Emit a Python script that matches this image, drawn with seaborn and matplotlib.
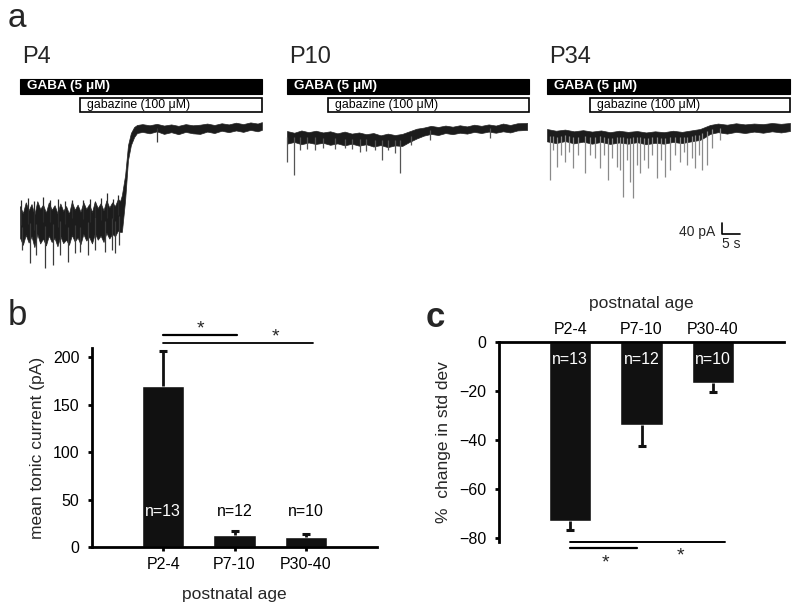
import numpy as np
import pandas as pd
import seaborn as sns
import matplotlib.pyplot as plt
from matplotlib.patches import Rectangle

sns.set_style("white")
plt.rcParams["font.family"] = ["Liberation Sans", "DejaVu Sans"]

# ---- panel a: traces (time s, current pA rel. to gabazine level)
p4_t = [0, 0.8, 1.6, 2.4, 3.2, 4.0, 4.8, 5.6, 6.4, 7.2, 8.0, 8.8, 9.6, 10.4, 11.2, 12.0,
        12.8, 13.6, 14.4, 15.2, 16.0, 16.8, 17.6, 18.4, 19.2, 20.0, 20.8, 21.6, 22.4, 23.2,
        24.0, 24.8, 25.6, 26.4, 27.2, 27.8, 28.3, 29.2, 30.0, 30.8, 31.7, 32.5,
        34, 36, 38, 40, 42, 44, 46, 48, 50, 52, 54, 56, 58, 60, 62, 64, 66, 67.2]
p4_hi = [-275, -300, -262, -290, -268, -305, -258, -285, -270, -298, -262, -288, -272, -300,
         -266, -292, -275, -302, -260, -288, -270, -295, -262, -285, -268, -296, -258, -282,
         -265, -290, -255, -280, -262, -275, -250, -258, -237, -167, -63, -21, 0, 7,
         10, 6, 11, 5, 9, 4, 10, 6, 8, 12, 7, 13, 9, 15, 10, 16, 12, 17]
p4_lo = [-385, -410, -375, -402, -380, -418, -372, -405, -388, -412, -378, -400, -386, -415,
         -380, -404, -392, -410, -376, -398, -384, -408, -372, -395, -382, -405, -370, -392,
         -378, -400, -368, -388, -372, -380, -360, -365, -365, -254, -115, -63, -35, -21,
         -17, -22, -15, -24, -18, -25, -17, -22, -24, -16, -21, -13, -18, -12, -17, -10, -15, -10]
p4_down_t = [0.6, 2.8, 4.4, 6.9, 9.2, 11.1, 13.3, 15.3, 16.7, 18.9, 20.8, 23.6, 25.6, 26.4, 27.5, 38.1]
p4_down = [-428, -473, -445, -490, -480, -445, -470, -438, -435, -445, -428, -435, -428, -438, -410, -52]
p4_up_t = [0.3, 2.2, 3.9, 6.4, 8.3, 10.6, 12.5, 14.4, 17.5, 19.4, 20.8, 22.5, 24.2, 25.8, 27.2]
p4_up = [-254, -247, -257, -243, -254, -250, -257, -254, -254, -250, -261, -247, -230, -250, -237]

p10_t = [0, 2, 4, 6, 8, 10, 12, 14, 16, 18, 20, 22, 24, 26, 28, 30, 32, 34, 36, 38, 40,
         42, 44, 46, 48, 50, 52, 54, 56, 58, 60, 62, 64, 66.7]
p10_hi = [-14, -20, -12, -18, -13, -19, -15, -22, -16, -23, -19, -25, -21, -29, -23, -28, -24,
          -15, -6, -2, 4, 0, 5, 1, 6, 2, 8, 4, 9, 5, 12, 7, 13, 14]
p10_lo = [-58, -52, -60, -54, -59, -55, -62, -57, -64, -58, -65, -60, -68, -63, -70, -64, -66,
          -52, -40, -30, -24, -28, -21, -25, -20, -23, -17, -21, -16, -20, -15, -19, -12, -10]
p10_down_t = [0, 1.9, 3.6, 5.5, 7.8, 10.0, 13.3, 16.1, 18.0, 20.3, 22.0, 24.4, 26.4, 28.1,
              30.0, 31.4, 34.5, 39.7, 56.4]
p10_down = [-122, -167, -80, -75, -80, -72, -77, -73, -78, -87, -85, -80, -115, -80,
            -90, -160, -62, -45, -38]

p34_t = [0, 2.5, 5, 7.5, 10, 12.5, 15, 17.5, 20, 22.5, 25, 27.5, 30, 32.5, 35, 37.5, 40,
         42.5, 43.9, 45.3, 47.5, 50, 52.5, 55, 57.5, 60, 62.5, 65, 67.5]
p34_hi = [-7, -13, -9, -15, -11, -16, -12, -18, -13, -17, -14, -19, -15, -18, -13, -17, -12,
          -7, 0, 7, 12, 8, 13, 9, 12, 10, 14, 11, 14]
p34_lo = [-50, -56, -49, -57, -51, -58, -52, -59, -54, -58, -53, -60, -55, -58, -52, -56, -50,
          -45, -35, -24, -18, -23, -17, -21, -16, -20, -15, -19, -14]
p34_down_t = [0.8, 1.7, 2.8, 3.9, 5.0, 6.1, 7.2, 8.6, 10.6, 11.9, 13.3, 14.7, 15.8, 16.9,
              18.1, 19.4, 20.3, 21.1, 22.2, 23.1, 23.9, 25.0, 25.8, 26.9, 28.1, 29.2, 30.6,
              31.7, 32.8, 34.2, 35.6, 36.9, 38.1, 38.9, 40.3, 41.1, 42.2, 43.1, 44.4, 45.8, 48.1]
p34_down = [-184, -80, -139, -97, -122, -87, -143, -97, -160, -97, -108, -143, -97, -184,
            -108, -139, -150, -243, -115, -191, -247, -132, -160, -115, -143, -97, -177,
            -115, -174, -150, -97, -122, -87, -132, -108, -143, -97, -150, -132, -73, -45]

trace_names = ["P4", "P10", "P34"]
trace_len = [67.2, 67.2, 67.5]
gabazine_on = [16.7, 11.4, 11.9]

# ---- panels b and c
ages = ["P2-4", "P7-10", "P30-40"]
n_cells = ["n=13", "n=12", "n=10"]
tonic_mean = [169.5, 12.3, 10.9]
tonic_sem = [37.0, 4.5, 3.0]
sd_change = [-73.0, -33.9, -16.8]
sd_sem = [3.8, 8.4, 3.4]

W, H = 800, 607
fig = plt.figure(figsize=(8, 6.07), dpi=100)


def fx(x):
    return x / W


def fy(y):
    return 1 - y / H


PX_S = 3.6      # px per second
PX_PA = 0.2875  # px per pA


def ya(ypx):
    # pixel row -> pA in panel a axes
    return (127 - ypx) / PX_PA


ax_a = fig.add_axes([0, fy(300), 1, 300 / H])
ax_a.set_xlim(0, W / PX_S)
ax_a.set_ylim(ya(300), ya(0))
ax_a.axis("off")

traces = [
    (p4_t, p4_lo, p4_hi, p4_down_t, p4_down, p4_up_t, p4_up, "#3a3a3a"),
    (p10_t, p10_lo, p10_hi, p10_down_t, p10_down, [], [], "#555555"),
    (p34_t, p34_lo, p34_hi, p34_down_t, p34_down, [], [], "#8a8a8a"),
]
starts_px = [20, 287, 547]

for i, (t, lo, hi, dt, dv, ut, uv, spk_col) in enumerate(traces):
    t0 = starts_px[i] / PX_S
    t = np.array(t) + t0
    lo = np.array(lo)
    hi = np.array(hi)
    mid = (lo + hi) / 2
    ax_a.fill_between(t, lo, hi, color="#1c1c1c", lw=0.5, edgecolor="#262626")
    if dt:
        dt = np.array(dt) + t0
        ax_a.vlines(dt, np.interp(dt, t, mid), dv, color=spk_col, lw=0.9)
    if ut:
        ut = np.array(ut) + t0
        ax_a.vlines(ut, np.interp(ut, t, mid), uv, color="#2a2a2a", lw=0.9)

    # drug application bars
    ax_a.add_patch(Rectangle((t0, ya(94)), trace_len[i], ya(79) - ya(94),
                             facecolor="black", edgecolor="black", lw=0.8))
    ax_a.text(t0 + 2.0, (ya(79) + ya(94)) / 2, "GABA (5 μM)", color="white",
              fontsize=9.7, fontweight="bold", va="center", ha="left")
    g0 = t0 + gabazine_on[i]
    ax_a.add_patch(Rectangle((g0, ya(112)), trace_len[i] - gabazine_on[i], ya(98) - ya(112),
                             facecolor="white", edgecolor="black", lw=1.2))
    ax_a.text(g0 + 2.0, (ya(98) + ya(112)) / 2, "gabazine (100 μM)", color="black",
              fontsize=8.8, va="center", ha="left")

    fig.text(fx(starts_px[i] + 2), fy(63), trace_names[i], fontsize=17, va="baseline")

# scale bar 40 pA / 5 s
sx, sy = 722 / PX_S, ya(234)
ax_a.plot([sx, sx, sx + 5], [sy + 40, sy, sy], color="black", lw=1.2)
ax_a.text(sx - 1.8, sy + 8, "40 pA", fontsize=10, ha="right", va="center")
ax_a.text(sx + 2.5, sy - 36, "5 s", fontsize=10, ha="center", va="center")

fig.text(fx(8), fy(27), "a", fontsize=24, va="baseline")
fig.text(fx(8), fy(325), "b", fontsize=25, va="baseline")
fig.text(fx(426), fy(327), "c", fontsize=25, fontweight="bold", va="baseline")

bar_col = "#111111"


def one_sided_err(ax, means, errs, sign):
    x = np.arange(len(means))
    tips = np.array(means) + sign * np.array(errs)
    ax.vlines(x, means, tips, color=bar_col, lw=2, zorder=3)
    ax.scatter(x, tips, marker="_", s=40, linewidths=2.2, color=bar_col, zorder=3)


# ---- panel b
df_b = pd.DataFrame({"age": ages, "current": tonic_mean})
ax_b = fig.add_axes([fx(92), fy(547), (377 - 92) / W, (547 - 348) / H])
sns.barplot(data=df_b, x="age", y="current", order=ages, color=bar_col,
            saturation=1, width=0.59, errorbar=None, ax=ax_b)
one_sided_err(ax_b, tonic_mean, tonic_sem, 1)
ax_b.set_xlim(-1, 3)
ax_b.set_ylim(0, 209.5)
ax_b.set_yticks([0, 50, 100, 150, 200])
sns.despine(ax=ax_b)
for s in ["left", "bottom"]:
    ax_b.spines[s].set_linewidth(2)
    ax_b.spines[s].set_color("black")
ax_b.tick_params(axis="both", direction="out", length=3, width=2, labelsize=11.5,
                 colors="black", bottom=True, left=True)
ax_b.tick_params(axis="y", pad=6)
ax_b.tick_params(axis="x", pad=4)
ax_b.set_xlabel("postnatal age", fontsize=12.5, labelpad=11)
ax_b.set_ylabel("mean tonic current (pA)", fontsize=12.5, labelpad=6)
for i, lab in enumerate(n_cells):
    ax_b.text(i, 37, lab, fontsize=11.5, ha="center", va="center",
              color="white" if i == 0 else "black")
ax_b.plot([-0.01, 1.03], [223, 223], color="black", lw=1.6, clip_on=False)
ax_b.plot([-0.01, 2.1], [215, 215], color="black", lw=1.3, clip_on=False)
ax_b.text(0.52, 230, "*", fontsize=14, ha="center", va="center", clip_on=False)
ax_b.text(1.58, 221, "*", fontsize=14, ha="center", va="center", clip_on=False)

# ---- panel c
df_c = pd.DataFrame({"age": ages, "change": sd_change})
ax_c = fig.add_axes([fx(499), fy(541.7), (784 - 499) / W, (541.7 - 342.3) / H])
sns.barplot(data=df_c, x="age", y="change", order=ages, color=bar_col,
            saturation=1, width=0.59, errorbar=None, ax=ax_c)
one_sided_err(ax_c, sd_change, sd_sem, -1)
ax_c.set_xlim(-1, 3)
ax_c.set_ylim(-81.6, 0)
ax_c.set_yticks([0, -20, -40, -60, -80])
ax_c.xaxis.tick_top()
ax_c.xaxis.set_label_position("top")
for s in ["right", "bottom"]:
    ax_c.spines[s].set_visible(False)
for s in ["left", "top"]:
    ax_c.spines[s].set_linewidth(2)
    ax_c.spines[s].set_color("black")
ax_c.tick_params(axis="y", direction="out", length=3, width=2, labelsize=11.5,
                 colors="black", left=True, pad=6)
ax_c.tick_params(axis="x", length=0, labelsize=11.5, colors="black", pad=4)
ax_c.set_xlabel("postnatal age", fontsize=12.5, labelpad=10)
ax_c.set_ylabel("%  change in std dev", fontsize=12.5, labelpad=6)
for i, lab in enumerate(n_cells):
    ax_c.text(i, -7.0, lab, fontsize=11.5, ha="center", va="center", color="white")
ax_c.plot([-0.01, 2.17], [-81.6, -81.6], color="black", lw=1.4, clip_on=False)
ax_c.plot([-0.01, 0.94], [-84.1, -84.1], color="black", lw=1.6, clip_on=False)
ax_c.text(0.49, -90.5, "*", fontsize=14, ha="center", va="center", clip_on=False)
ax_c.text(1.55, -87.3, "*", fontsize=14, ha="center", va="center", clip_on=False)

fig.savefig("out.png", dpi=100)
